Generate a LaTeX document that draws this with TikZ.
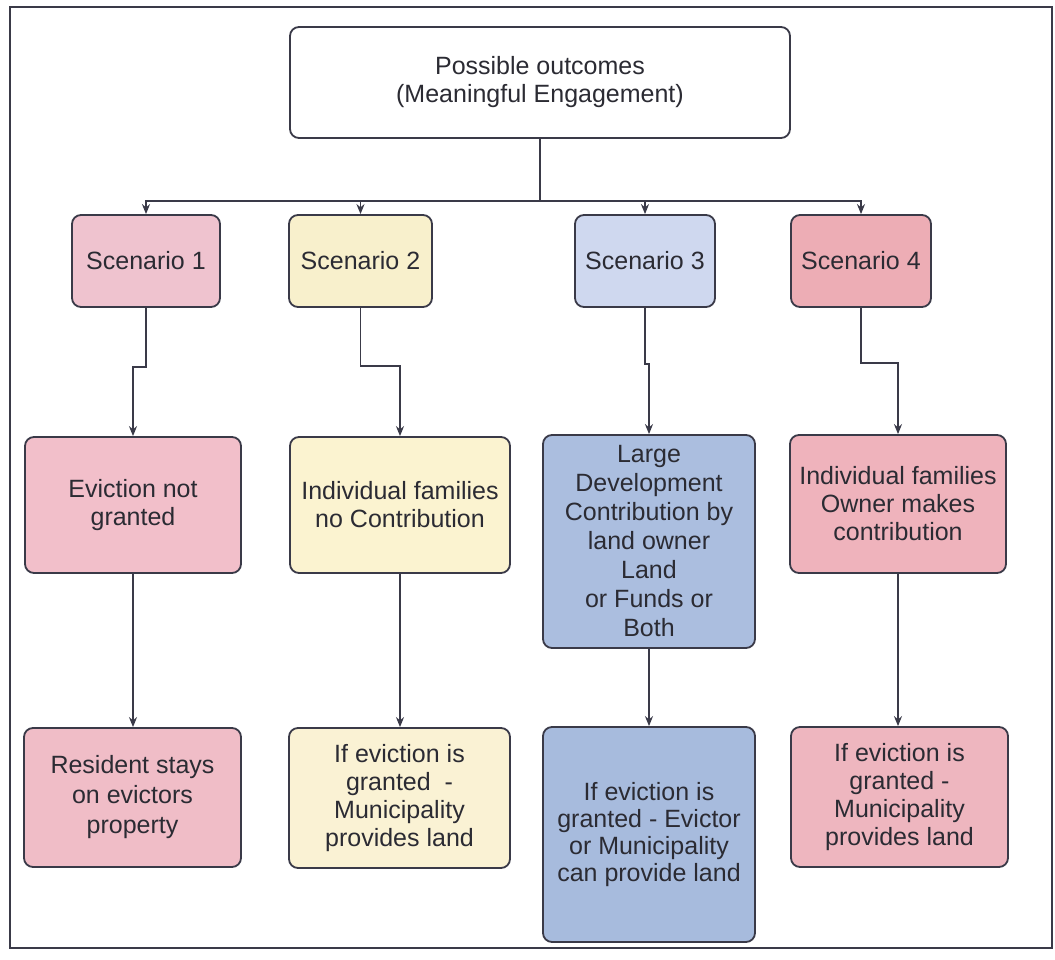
\documentclass[tikz,border=0pt]{standalone}
\usepackage{fontspec}
\setmainfont{Liberation Sans}
\usetikzlibrary{arrows.meta}
\definecolor{linec}{HTML}{3A3A48}
\definecolor{txt}{HTML}{2B2B33}
\definecolor{sA}{HTML}{EFC3CF}
\definecolor{sB}{HTML}{F8F0CC}
\definecolor{sC}{HTML}{CFD8EF}
\definecolor{sD}{HTML}{EDADB5}
\definecolor{aA}{HTML}{F2BFCA}
\definecolor{aB}{HTML}{FBF3D0}
\definecolor{aC}{HTML}{ABBEDF}
\definecolor{aD}{HTML}{EFB3BC}
\definecolor{bA}{HTML}{F0BDC7}
\definecolor{bB}{HTML}{FAF2D4}
\definecolor{bC}{HTML}{A7BBDD}
\definecolor{bD}{HTML}{EEB6BF}
\tikzset{
  box/.style={draw=linec, line width=1.8pt, rounded corners=9pt, align=center,
    inner sep=0pt, font=\fontsize{25}{28}\selectfont, text=txt},
  conn/.style={draw=linec, line width=1.5pt},
  arr/.style={conn, -{Stealth[length=10pt,width=8pt]}},
  frame/.style={draw=linec, line width=2pt}
}
\begin{document}
\begin{tikzpicture}[x=1pt,y=-1pt]
\useasboundingbox (0,0) rectangle (1055,959);
\fill[white] (0,0) rectangle (1055,959);
\draw[frame] (10,7) rectangle (1052,948);

\node[box, fill=white, minimum width=500pt, minimum height=111pt] (top) at (540,82.5)
  {Possible outcomes\\(Meaningful Engagement)};

\node[box, fill=sA, minimum width=148pt, minimum height=92pt] (s1) at (146,261) {Scenario 1};
\node[box, fill=sB, minimum width=143pt, minimum height=92pt] (s2) at (360.5,261) {Scenario 2};
\node[box, fill=sC, minimum width=140pt, minimum height=92pt] (s3) at (645,261) {Scenario 3};
\node[box, fill=sD, minimum width=140pt, minimum height=92pt] (s4) at (861,261) {Scenario 4};

\node[box, fill=aA, minimum width=216pt, minimum height=136pt] (a1) at (133,505)
  {Eviction not\\granted};
\node[box, fill=aB, minimum width=220pt, minimum height=136pt] (a2) at (400,505)
  {Individual families\\no Contribution};
\node[box, fill=aC, minimum width=212pt, minimum height=213pt,
  font=\fontsize{25}{29}\selectfont] (a3) at (649,541.5)
  {Large\\Development\\Contribution by\\land owner\\Land\\or Funds or\\Both};
\node[box, fill=aD, minimum width=216pt, minimum height=138pt] (a4) at (898,504)
  {Individual families\\Owner makes\\contribution};

\node[box, fill=bA, minimum width=217pt, minimum height=139pt,
  font=\fontsize{25}{30}\selectfont] (b1) at (132.5,797.5)
  {Resident stays\\on evictors\\property};
\node[box, fill=bB, minimum width=221pt, minimum height=140pt] (b2) at (399.5,798)
  {If eviction is\\granted~~-\\Municipality\\provides land};
\node[box, fill=bC, minimum width=212pt, minimum height=215pt,
  font=\fontsize{25}{27}\selectfont] (b3) at (649,834.5)
  {If eviction is\\granted - Evictor\\or Municipality\\can provide land};
\node[box, fill=bD, minimum width=217pt, minimum height=140pt] (b4) at (899.5,797)
  {If eviction is\\granted -\\Municipality\\provides land};

\coordinate (bus) at (540,201);
\draw[conn] (top.south) -- (bus);
\draw[arr] (bus) -| (s1.north);
\draw[arr] (bus) -| (s2.north);
\draw[arr] (bus) -| (s3.north);
\draw[arr] (bus) -| (s4.north);

\draw[arr] (s1.south) -- ++(0,59) -| (a1.north);
\draw[arr] (s2.south) -- ++(0,58) -| (a2.north);
\draw[arr] (s3.south) -- ++(0,56) -| (a3.north);
\draw[arr] (s4.south) -- ++(0,55) -| (a4.north);

\draw[arr] (a1.south) -- (a1.south |- b1.north);
\draw[arr] (a2.south) -- (a2.south |- b2.north);
\draw[arr] (a3.south) -- (a3.south |- b3.north);
\draw[arr] (a4.south) -- (a4.south |- b4.north);
\end{tikzpicture}
\end{document}
